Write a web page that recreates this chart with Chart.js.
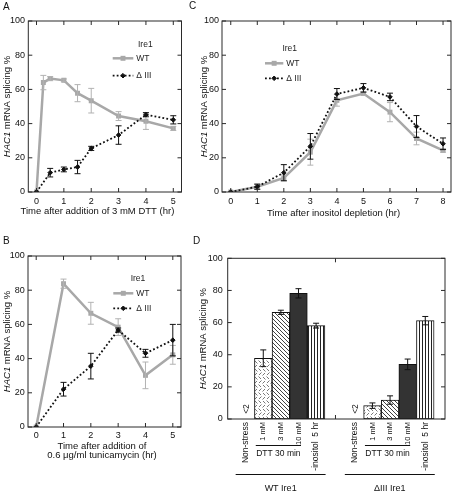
<!DOCTYPE html>
<html>
<head>
<meta charset="utf-8">
<script src="https://cdn.jsdelivr.net/npm/chart.js@4.4.1/dist/chart.umd.min.js"></script>
<style>
  body { margin: 0; background: #fff; }
  #fig { position: relative; width: 456px; height: 496px; overflow: hidden; font-family: 'Liberation Sans', Arial, sans-serif; }
  canvas { position: absolute; }
  .tag { position: absolute; font-size: 10px; line-height: 10px; color: #111; }
</style>
</head>
<body>
<div id="fig">
  <canvas id="chartA" width="190" height="220" style="left:0;top:0"></canvas>
  <canvas id="chartB" width="190" height="230" style="left:0;top:236px"></canvas>
  <canvas id="chartC" width="266" height="220" style="left:190px;top:0"></canvas>
  <canvas id="chartD" width="266" height="260" style="left:190px;top:236px"></canvas>
  <div class="tag" style="left:3px;top:1.5px">A</div>
  <div class="tag" style="left:3px;top:236px">B</div>
  <div class="tag" style="left:189px;top:0.7px">C</div>
  <div class="tag" style="left:193px;top:235.7px">D</div>
</div>
<script>
// percent ticks shared by all panels
const yTicks = [0, 20, 40, 60, 80, 100];

// A: 3 mM DTT time course
const aTicks = [0, 1, 2, 3, 4, 5];
const aWtHours = [0, 0.25, 0.5, 1, 1.5, 2, 3, 4, 5];
const aWt = [0, 64, 66.3, 65.3, 57.8, 53.4, 44.4, 41.4, 37.2];
const aWtErr = [0, 4.2, 1.2, 0.8, 5, 7.2, 2.6, 4.8, 1.2];
const aDeltaHours = [0, 0.5, 1, 1.5, 2, 3, 4, 5];
const aDelta = [0, 11.3, 13.2, 14.6, 25.5, 33.3, 45.2, 42.2];
const aDeltaErr = [0, 2.5, 1.4, 3.9, 1.2, 5.4, 1.2, 2.4];

// B: tunicamycin time course
const bTicks = [0, 1, 2, 3, 4, 5];
const bHours = [0, 1, 2, 3, 4, 5];
const bWt = [0, 83.8, 66.5, 58.4, 30.2, 42.2];
const bWtErr = [0, 2.7, 6.4, 4.9, 7.8, 5.5];
const bDelta = [0, 22.1, 35.6, 56.7, 43.1, 50.8];
const bDeltaErr = [0, 4, 7.5, 1.2, 2.3, 9.2];

// C: inositol depletion time course
const cTicks = [0, 1, 2, 3, 4, 5, 6, 7, 8];
const cHours = [0, 1, 2, 3, 4, 5, 6, 7, 8];
const cWt = [0, 3.1, 8.2, 23.3, 53.6, 57.6, 46.7, 31.3, 24.3];
const cWtErr = [0, 1.5, 1.8, 7.6, 3.4, 1, 5.6, 3.7, 1];
const cDelta = [0, 3.1, 11.3, 26.7, 57.3, 60.9, 55.6, 38.3, 28.2];
const cDeltaErr = [0, 1.5, 4.7, 7.5, 3.2, 2.5, 2.2, 6.4, 3.4];

// D: 30 min / 5 hr snapshots
const dConditions = ['Non-stress', '1 mM', '3 mM', '10 mM', '-inositol  5 hr'];
const dGroups = ['WT Ire1', '\u0394III Ire1'];
const dWtSlots = [0, 1, 2, 3, 4];
const dDeltaSlots = [6.2, 7.2, 8.2, 9.2, 10.2];
const dWt = [0, 37.8, 66.4, 78.2, 58.1];
const dWtErr = [0, 5.2, 1.3, 2.9, 1.5];
const dDelta = [0, 8.3, 11.8, 34, 61.2];
const dDeltaErr = [0, 1.7, 2.6, 3.3, 2.6];

const family = "'Liberation Sans', Arial, Helvetica, sans-serif";
Chart.defaults.font.family = family;
Chart.defaults.font.size = 9;
Chart.defaults.color = '#111';
Chart.defaults.animation = false;
Chart.defaults.responsive = false;
Chart.defaults.plugins.legend.display = false;
Chart.defaults.plugins.tooltip.enabled = false;

// box round the plot with inward ticks on every side
const frame = {
  id: 'frame',
  afterDatasetsDraw(chart, args, opts) {
    const { ctx, chartArea: a, scales: { x, y } } = chart;
    const len = 4;
    ctx.save();
    ctx.strokeStyle = '#2a2a2a';
    ctx.lineWidth = 1;
    ctx.strokeRect(a.left, a.top, a.right - a.left, a.bottom - a.top);
    ctx.beginPath();
    y.ticks.forEach(t => {
      const py = y.getPixelForValue(t.value);
      ctx.moveTo(a.left, py); ctx.lineTo(a.left + len, py);
      ctx.moveTo(a.right, py); ctx.lineTo(a.right - len, py);
    });
    const xs = opts.xMarks || x.ticks.map(t => t.value);
    xs.forEach(v => {
      const px = x.getPixelForValue(v);
      ctx.moveTo(px, a.bottom); ctx.lineTo(px, a.bottom - len);
      ctx.moveTo(px, a.top); ctx.lineTo(px, a.top + len);
    });
    ctx.stroke();
    ctx.restore();
  }
};

const errorBars = {
  id: 'errorBars',
  afterDatasetDraw(chart, args) {
    const ds = chart.data.datasets[args.index];
    if (!ds.errors) return;
    const { ctx, scales: { y } } = chart;
    ctx.save();
    ctx.strokeStyle = ds.errorColor;
    ctx.lineWidth = 1;
    args.meta.data.forEach((el, j) => {
      const e = ds.errors[j];
      if (!e) return;
      const v = ds.data[j].y;
      const top = y.getPixelForValue(v + e), bot = y.getPixelForValue(v - e);
      ctx.beginPath();
      ctx.moveTo(el.x, top); ctx.lineTo(el.x, bot);
      ctx.moveTo(el.x - 3, top); ctx.lineTo(el.x + 3, top);
      ctx.moveTo(el.x - 3, bot); ctx.lineTo(el.x + 3, bot);
      ctx.stroke();
    });
    ctx.restore();
  }
};

const ireLegend = {
  id: 'ireLegend',
  afterDraw(chart, args, o) {
    if (!o.rows) return;
    const { ctx, chartArea: a } = chart;
    ctx.save();
    ctx.font = '8.5px ' + family;
    ctx.textBaseline = 'middle';
    ctx.fillStyle = '#222';
    ctx.textAlign = 'center';
    ctx.fillText('Ire1', a.left + o.headX, a.top + o.headY);
    chart.data.datasets.forEach((ds, i) => {
      const y = a.top + o.rows[i], x0 = a.left + o.lineX0, x1 = a.left + o.lineX1;
      ctx.strokeStyle = ds.borderColor;
      ctx.lineWidth = ds.borderWidth;
      ctx.setLineDash(ds.borderDash || []);
      ctx.beginPath(); ctx.moveTo(x0, y); ctx.lineTo(x1, y); ctx.stroke();
      ctx.setLineDash([]);
      ctx.fillStyle = ds.pointBackgroundColor;
      ctx.strokeStyle = ds.pointBorderColor;
      ctx.lineWidth = ds.pointBorderWidth;
      Chart.helpers.drawPoint(ctx, { pointStyle: ds.pointStyle, radius: ds.pointRadius, borderWidth: ds.pointBorderWidth, rotation: 0 }, (x0 + x1) / 2, y);
      ctx.fillStyle = '#222';
      ctx.textAlign = 'left';
      ctx.fillText(ds.label, x1 + 3, y);
    });
    ctx.restore();
  }
};

// axis titles (HAC1 in italics)
const axisText = {
  id: 'axisText',
  afterDraw(chart, args, o) {
    if (o.yTitleX === undefined) return;
    const { ctx, chartArea: a } = chart;
    ctx.save();
    ctx.fillStyle = '#111';
    ctx.textBaseline = 'middle';
    ctx.translate(o.yTitleX, (a.top + a.bottom) / 2);
    ctx.rotate(-Math.PI / 2);
    ctx.font = 'italic 9.5px ' + family;
    const w1 = ctx.measureText('HAC1').width;
    ctx.font = '9.5px ' + family;
    const rest = ' mRNA splicing %';
    const w2 = ctx.measureText(rest).width;
    ctx.textAlign = 'left';
    ctx.font = 'italic 9.5px ' + family;
    ctx.fillText('HAC1', -(w1 + w2) / 2, 0);
    ctx.font = '9.5px ' + family;
    ctx.fillText(rest, -(w1 + w2) / 2 + w1, 0);
    ctx.restore();
    ctx.save();
    ctx.fillStyle = '#111';
    ctx.font = '9.5px ' + family;
    ctx.textAlign = 'center';
    ctx.textBaseline = 'middle';
    (o.xTitle || []).forEach((line, i) => {
      ctx.fillText(line, (a.left + a.right) / 2 + o.xTitleDx, o.xTitleY + i * o.lineGap);
    });
    ctx.restore();
  }
};

// panel D: "<2" notes, DTT brackets and group labels
const dNotes = {
  id: 'dNotes',
  afterDraw(chart, args, o) {
    if (!o.groups) return;
    const { ctx, scales: { x, y } } = chart;
    ctx.save();
    ctx.fillStyle = '#111';
    ctx.strokeStyle = '#111';
    ctx.lineWidth = 1;
    ctx.textAlign = 'center';
    ctx.textBaseline = 'middle';
    o.groups.forEach(g => {
      const px = g.slots.map(v => x.getPixelForValue(v));
      ctx.font = '8.5px ' + family;
      g.values.forEach((v, i) => {
        if (v !== 0) return;
        ctx.save();
        ctx.translate(px[i] + 0.5, y.getPixelForValue(0) - 10);
        ctx.rotate(-Math.PI / 2);
        ctx.fillText('<2', 0, 0);
        ctx.restore();
      });
      const d0 = px[1] - 7.5, d1 = px[3] + 2.5;
      ctx.beginPath(); ctx.moveTo(d0, o.dttLineY); ctx.lineTo(d1, o.dttLineY); ctx.stroke();
      ctx.font = '8.5px ' + family;
      ctx.fillText('DTT 30 min', (d0 + d1) / 2, o.dttTextY);
      const g0 = px[0] - 10, g1 = px[4] + 9.5;
      ctx.beginPath(); ctx.moveTo(g0, o.groupLineY); ctx.lineTo(g1, o.groupLineY); ctx.stroke();
      ctx.font = '9px ' + family;
      ctx.fillText(g.name, (g0 + g1) / 2, o.groupTextY);
    });
    ctx.restore();
  }
};

Chart.register(frame, errorBars, ireLegend, axisText, dNotes);

function points(xs, ys) {
  return xs.map((x, i) => ({ x: x, y: ys[i] }));
}

function percentAxis(pad) {
  return {
    min: 0, max: 100,
    grid: { display: false, drawTicks: false },
    border: { display: false },
    afterBuildTicks: s => { s.ticks = yTicks.map(v => ({ value: v })); },
    afterFit: s => { s.width = pad.yAxis; },
    ticks: { padding: pad.yTick, font: { size: 9 }, color: '#111', callback: v => String(v) }
  };
}

function timeCourse(id, p) {
  return new Chart(document.getElementById(id), {
    type: 'line',
    data: {
      datasets: [
        { label: 'WT', data: points(p.wtX, p.wt), errors: p.wtErr, errorColor: '#b2b2b2',
          borderColor: '#a8a8a8', borderWidth: 2.5, pointStyle: 'rect', pointRadius: 3.5,
          pointBackgroundColor: '#a8a8a8', pointBorderColor: '#a8a8a8', pointBorderWidth: 0, order: 2 },
        { label: '\u0394 III', data: points(p.dX, p.d), errors: p.dErr, errorColor: '#111',
          borderColor: '#111', borderWidth: 1.8, borderDash: [1.8, 2.2], pointStyle: 'rectRot', pointRadius: 2.3,
          pointBackgroundColor: '#111', pointBorderColor: '#111', pointBorderWidth: 1, order: 1 }
      ]
    },
    options: {
      layout: { padding: { top: p.pad.top, right: p.pad.right, left: 0, bottom: 0 } },
      scales: {
        x: {
          type: 'linear', min: p.xMin, max: p.xMax,
          grid: { display: false, drawTicks: false },
          border: { display: false },
          afterBuildTicks: s => { s.ticks = p.xTicks.map(v => ({ value: v })); },
          afterFit: s => { s.height = p.pad.xAxis; },
          ticks: { padding: p.pad.xTick, font: { size: 9 }, color: '#111', callback: v => String(v) }
        },
        y: percentAxis(p.pad)
      },
      plugins: { frame: {}, ireLegend: p.legend, axisText: p.text }
    }
  });
}

timeCourse('chartA', {
  wtX: aWtHours, wt: aWt, wtErr: aWtErr, dX: aDeltaHours, d: aDelta, dErr: aDeltaErr,
  xTicks: aTicks, xMin: -0.3, xMax: 5.3,
  pad: { top: 21, right: 8.5, yAxis: 28.3, xAxis: 28, yTick: 3.3, xTick: 4 },
  legend: { headX: 117, headY: 23.3, lineX0: 84.4, lineX1: 105, rows: [37.3, 54.7] },
  text: { yTitleX: 7, xTitle: ['Time after addition of 3 mM DTT (hr)'], xTitleDx: -7.5, xTitleY: 211.5, lineGap: 9 }
});

timeCourse('chartB', {
  wtX: bHours, wt: bWt, wtErr: bWtErr, dX: bHours, d: bDelta, dErr: bDeltaErr,
  xTicks: bTicks, xMin: -0.3, xMax: 5.3,
  pad: { top: 20, right: 9, yAxis: 28, xAxis: 39, yTick: 3.3, xTick: 2.8 },
  legend: { headX: 110, headY: 22.3, lineX0: 85.3, lineX1: 105.3, rows: [37.3, 52.3] },
  text: { yTitleX: 7, xTitle: ['Time after addition of', '0.6 \u03bcg/ml tunicamycin (hr)'], xTitleDx: -2.5, xTitleY: 210.5, lineGap: 8.5 }
});

timeCourse('chartC', {
  wtX: cHours, wt: cWt, wtErr: cWtErr, dX: cHours, d: cDelta, dErr: cDeltaErr,
  xTicks: cTicks, xMin: -0.33, xMax: 8.3,
  pad: { top: 21, right: 1.5, yAxis: 32, xAxis: 28, yTick: 3, xTick: 4 },
  legend: { headX: 67.7, headY: 27.3, lineX0: 43, lineX1: 61.3, rows: [42.3, 57.3] },
  text: { yTitleX: 14.5, xTitle: ['Time after inositol depletion (hr)'], xTitleDx: -3, xTitleY: 213.5, lineGap: 9 }
});

// bar fills: dashes, back-slash hatch, solid, vertical stripes
const ctxD = document.getElementById('chartD').getContext('2d');
function makeFill(w, h, draw) {
  const tile = document.createElement('canvas');
  tile.width = w; tile.height = h;
  const g = tile.getContext('2d');
  g.fillStyle = '#fff';
  g.fillRect(0, 0, w, h);
  draw(g);
  return ctxD.createPattern(tile, 'repeat');
}
const dashFill = makeFill(8, 8, g => {
  g.strokeStyle = '#555'; g.lineWidth = 0.8;
  g.beginPath();
  g.moveTo(0.5, 3.5); g.lineTo(3, 1);
  g.moveTo(4.5, 4.5); g.lineTo(7, 7);
  g.moveTo(1, 5); g.lineTo(3.5, 7.5);
  g.moveTo(5, 3); g.lineTo(7.5, 0.5);
  g.stroke();
});
const hatchFill = makeFill(4, 4, g => {
  g.strokeStyle = '#111'; g.lineWidth = 0.8;
  g.beginPath();
  g.moveTo(-1, -1); g.lineTo(5, 5);
  g.moveTo(-1, 3); g.lineTo(1, 5);
  g.moveTo(3, -1); g.lineTo(5, 1);
  g.stroke();
});
const stripeFill = makeFill(3, 2, g => {
  g.fillStyle = '#222';
  g.fillRect(1, 0, 1, 2);
});
const dFills = [ '#fff', dashFill, hatchFill, '#333', stripeFill ];

const dSlots = dWtSlots.concat(dDeltaSlots);
const dValues = dWt.concat(dDelta);
const dErrors = dWtErr.concat(dDeltaErr);
const dTickLabels = dConditions.concat(dConditions);

new Chart(ctxD, {
  type: 'bar',
  data: {
    datasets: [{
      data: points(dSlots, dValues),
      backgroundColor: dSlots.map((s, i) => dFills[i % dFills.length]),
      borderColor: '#111',
      borderWidth: dValues.map(v => (v ? 1 : 0)),
      borderSkipped: false,
      errors: dErrors, errorColor: '#111',
      barPercentage: 1, categoryPercentage: 1
    }]
  },
  options: {
    layout: { padding: { top: 22.3, right: 11, left: 0, bottom: 0 } },
    scales: {
      x: {
        type: 'linear', min: -1.02, max: 11.32, offset: false,
        grid: { display: false, drawTicks: false },
        border: { display: false },
        afterBuildTicks: s => { s.ticks = dSlots.map(v => ({ value: v })); },
        afterFit: s => { s.height = 77; },
        ticks: { autoSkip: false, minRotation: 90, maxRotation: 90, padding: 3, color: '#111',
                 font: c => ({ size: /mM/.test(dTickLabels[c.index]) ? 7.5 : 8.5 }),
                 callback: (v, i) => dTickLabels[i] }
      },
      y: percentAxis({ yAxis: 37.7, yTick: 5 })
    },
    plugins: {
      frame: { xMarks: [(dWtSlots[4] + dDeltaSlots[0]) / 2] },
      axisText: { yTitleX: 13.3, xTitle: [] },
      dNotes: {
        groups: [
          { name: dGroups[0], slots: dWtSlots, values: dWt },
          { name: dGroups[1], slots: dDeltaSlots, values: dDelta }
        ],
        dttLineY: 209.5, dttTextY: 217.5, groupLineY: 238.5, groupTextY: 252.5
      }
    }
  }
});
</script>
</body>
</html>
